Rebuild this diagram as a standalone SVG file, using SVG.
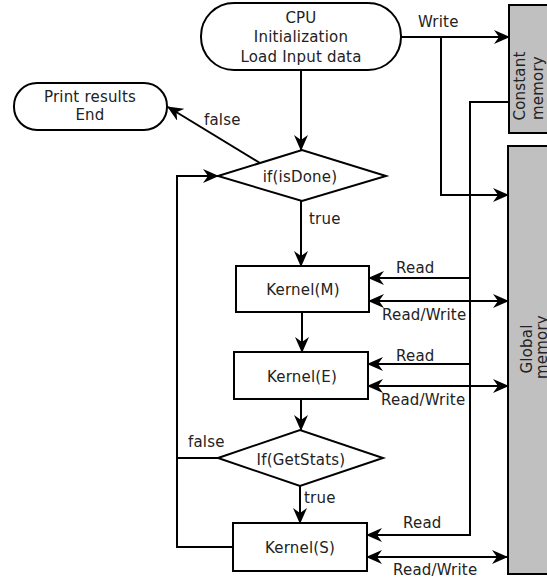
<svg xmlns="http://www.w3.org/2000/svg" width="547" height="577" viewBox="0 0 547 577">
  <style>
    .shape { fill: #ffffff; stroke: #000000; stroke-width: 2; }
    .mem { fill: #c0c0c0; stroke: #000000; stroke-width: 2; }
    .wire { fill: none; stroke: #000000; stroke-width: 2; }
    .lbl { font-family: "DejaVu Sans", Verdana, sans-serif; font-size: 15px; letter-spacing: 0.2px; fill: #222222; }
    .mid { text-anchor: middle; }
  </style>
  <defs>
    <marker id="arrow" viewBox="0 0 16 14" refX="15" refY="7" markerWidth="16" markerHeight="14" markerUnits="userSpaceOnUse" orient="auto-start-reverse">
      <path d="M0,0 L16,7 L0,14 L5,7 Z" fill="#000000"/>
    </marker>
  </defs>

  <!-- memory spaces -->
  <g id="constant-memory">
    <rect class="mem" x="509" y="5" width="50" height="128"/>
    <text class="lbl mid" transform="translate(525,86) rotate(-90)">Constant</text>
    <text class="lbl mid" transform="translate(543,88) rotate(-90)">memory</text>
  </g>
  <g id="global-memory">
    <rect class="mem" x="508" y="146" width="50" height="428"/>
    <text class="lbl mid" transform="translate(532,349) rotate(-90)">Global</text>
    <text class="lbl mid" transform="translate(547,347) rotate(-90)">memory</text>
  </g>

  <!-- flow nodes -->
  <g id="cpu-init">
    <rect class="shape" x="201" y="3" width="200" height="67" rx="33" ry="33"/>
    <text class="lbl mid" x="301" y="23">CPU</text>
    <text class="lbl mid" x="301" y="42">Initialization</text>
    <text class="lbl mid" x="301" y="62">Load Input data</text>
  </g>
  <g id="print-end">
    <rect class="shape" x="14" y="83" width="153" height="47" rx="23" ry="23"/>
    <text class="lbl mid" x="90" y="102">Print results</text>
    <text class="lbl mid" x="90" y="120">End</text>
  </g>
  <g id="is-done">
    <polygon class="shape" points="218,176 302,150 386,176 302,201"/>
    <text class="lbl mid" x="300" y="182">if(isDone)</text>
  </g>
  <g id="kernel-m">
    <rect class="shape" x="236" y="266" width="133" height="46"/>
    <text class="lbl mid" x="303" y="295">Kernel(M)</text>
  </g>
  <g id="kernel-e">
    <rect class="shape" x="234" y="352" width="134" height="47"/>
    <text class="lbl mid" x="302" y="382">Kernel(E)</text>
  </g>
  <g id="get-stats">
    <polygon class="shape" points="218,458 300,430 383,458 300,486"/>
    <text class="lbl mid" x="301" y="465">If(GetStats)</text>
  </g>
  <g id="kernel-s">
    <rect class="shape" x="233" y="523" width="134" height="48"/>
    <text class="lbl mid" x="300" y="553">Kernel(S)</text>
  </g>

  <!-- connectors -->
  <g id="connectors">
    <path class="wire" d="M301,70 V150" marker-end="url(#arrow)"/>
    <path class="wire" d="M260,163 L168,107" marker-end="url(#arrow)"/>
    <path class="wire" d="M301,201 V266" marker-end="url(#arrow)"/>
    <path class="wire" d="M302,312 V352" marker-end="url(#arrow)"/>
    <path class="wire" d="M301,399 V430" marker-end="url(#arrow)"/>
    <path class="wire" d="M300,486 V523" marker-end="url(#arrow)"/>
    <!-- loop back to the isDone test -->
    <path class="wire" d="M233,547 H177 V176 H218" marker-end="url(#arrow)"/>
    <path class="wire" d="M218,458 H177"/>
    <!-- host writes -->
    <path class="wire" d="M401,37 H509" marker-end="url(#arrow)"/>
    <path class="wire" d="M441,37 V195 H508" marker-end="url(#arrow)"/>
    <!-- constant memory reads -->
    <path class="wire" d="M509,102 H470 V535 H367" marker-end="url(#arrow)"/>
    <path class="wire" d="M470,278 H369" marker-end="url(#arrow)"/>
    <path class="wire" d="M470,364 H368" marker-end="url(#arrow)"/>
    <!-- global memory read/write -->
    <path class="wire" d="M369,301 H508" marker-start="url(#arrow)" marker-end="url(#arrow)"/>
    <path class="wire" d="M368,386 H508" marker-start="url(#arrow)" marker-end="url(#arrow)"/>
    <path class="wire" d="M367,557 H507" marker-start="url(#arrow)" marker-end="url(#arrow)"/>
  </g>

  <!-- connector labels -->
  <g id="labels">
    <text class="lbl" x="418" y="27">Write</text>
    <text class="lbl" x="204" y="125">false</text>
    <text class="lbl" x="309" y="224">true</text>
    <text class="lbl" x="396" y="273">Read</text>
    <text class="lbl" x="382" y="320">Read/Write</text>
    <text class="lbl" x="396" y="361">Read</text>
    <text class="lbl" x="381" y="405">Read/Write</text>
    <text class="lbl" x="188" y="447">false</text>
    <text class="lbl" x="304" y="503">true</text>
    <text class="lbl" x="403" y="528">Read</text>
    <text class="lbl" x="393" y="575">Read/Write</text>
  </g>
</svg>
